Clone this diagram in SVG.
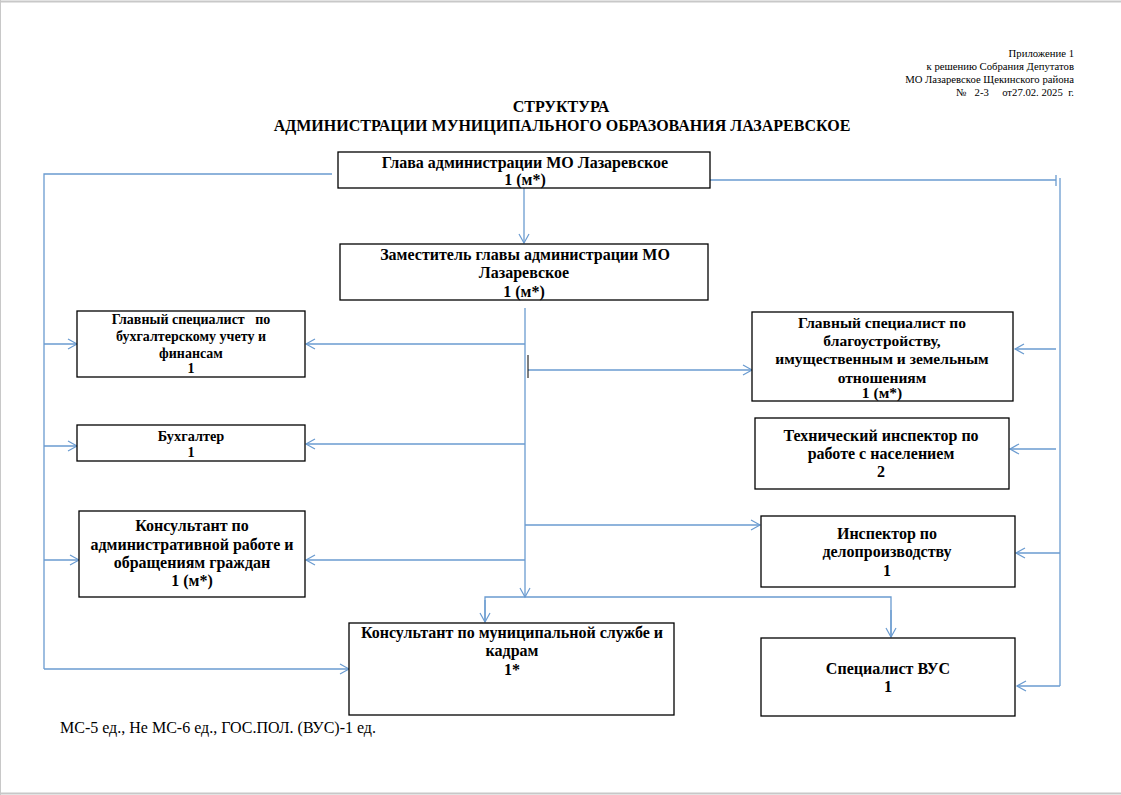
<svg xmlns="http://www.w3.org/2000/svg" width="1121" height="795" viewBox="0 0 1121 795">
<defs>
<marker id="arr" markerWidth="12" markerHeight="12" refX="10" refY="6" orient="auto" markerUnits="userSpaceOnUse">
<polyline points="1,1 10,6 1,11" fill="none" stroke="#6a9bd0" stroke-width="1.2"/>
</marker>
<style>
.box{fill:#fff;stroke:#000;stroke-width:1.3}
.t{font-family:"Liberation Serif","Times New Roman",serif;font-weight:bold;text-anchor:middle;fill:#000}
.c{fill:none;stroke:#6a9bd0;stroke-width:1.3}
.ca{fill:none;stroke:#6a9bd0;stroke-width:1.3;marker-end:url(#arr)}
.h{font-family:"Liberation Serif","Times New Roman",serif;font-size:10.7px;text-anchor:end;fill:#000}
</style>
</defs>
<rect x="0" y="0" width="1121" height="795" fill="#fff"/>
<line x1="0" y1="1.5" x2="1121" y2="1.5" stroke="#c8c8c8" stroke-width="2"/>
<line x1="0.5" y1="0" x2="0.5" y2="795" stroke="#c8c8c8" stroke-width="1"/>
<line x1="0" y1="793.5" x2="1121" y2="793.5" stroke="#c8c8c8" stroke-width="2"/>

<g id="header">
<text class="h" x="1074" y="57">Приложение 1</text>
<text class="h" x="1074" y="70">к решению Собрания Депутатов</text>
<text class="h" x="1074" y="83">МО Лазаревское Щекинского района</text>
<text class="h" x="1074" y="96" xml:space="preserve">№   2-3     от27.02. 2025  г.</text>
</g>
<g id="title">
<text class="t" x="561" y="112" font-size="16">СТРУКТУРА</text>
<text class="t" x="562" y="131" font-size="16">АДМИНИСТРАЦИИ МУНИЦИПАЛЬНОГО ОБРАЗОВАНИЯ ЛАЗАРЕВСКОЕ</text>
</g>

<g id="connectors">
<polyline class="c" points="332,174 44,174 44,669"/>
<line class="ca" x1="44" y1="344" x2="77" y2="344"/>
<line class="ca" x1="44" y1="446" x2="77" y2="446"/>
<line class="ca" x1="44" y1="560" x2="79" y2="560"/>
<line class="ca" x1="44" y1="669" x2="349" y2="669"/>
<line class="c" x1="710" y1="180" x2="1056" y2="180"/>
<line class="c" x1="1056" y1="175" x2="1056" y2="186"/>
<line class="c" x1="1060" y1="178" x2="1060" y2="686"/>
<line class="ca" x1="1056" y1="349" x2="1015" y2="349"/>
<line class="ca" x1="1056" y1="449" x2="1010" y2="449"/>
<line class="ca" x1="1060" y1="553" x2="1016" y2="553"/>
<line class="ca" x1="1060" y1="686" x2="1017" y2="686"/>
<line class="ca" x1="524" y1="188" x2="524" y2="243"/>
<line class="ca" x1="525" y1="308" x2="525" y2="597"/>
<line class="ca" x1="525" y1="344" x2="306" y2="344"/>
<line class="ca" x1="525" y1="444" x2="306" y2="444"/>
<line class="ca" x1="525" y1="560" x2="306" y2="560"/>
<line class="ca" x1="528" y1="370" x2="752" y2="370"/>
<line class="ca" x1="525" y1="525" x2="760" y2="525"/>
<polyline class="c" points="485,622 485,597 891,597 891,637"/>
<line class="ca" x1="485" y1="600" x2="485" y2="622"/>
<line class="ca" x1="891" y1="610" x2="891" y2="637"/>
<line x1="528" y1="355" x2="528" y2="378" stroke="#000" stroke-width="1"/>
</g>

<g id="n1">
<rect class="box" x="338" y="152" width="372" height="36"/>
<text class="t" x="525" y="168" font-size="16">Глава администрации МО Лазаревское</text>
<text class="t" x="525" y="185" font-size="16">1 (м*)</text>
</g>
<g id="n2">
<rect class="box" x="340" y="244" width="368" height="56"/>
<text class="t" x="525" y="260" font-size="16">Заместитель главы администрации МО</text>
<text class="t" x="524" y="278" font-size="16">Лазаревское</text>
<text class="t" x="524" y="297" font-size="16">1 (м*)</text>
</g>
<g id="n3">
<rect class="box" x="77" y="311" width="228" height="66"/>
<text class="t" x="191" y="324" font-size="14" xml:space="preserve">Главный специалист   по</text>
<text class="t" x="191" y="341" font-size="14">бухгалтерскому учету и</text>
<text class="t" x="191" y="358" font-size="14">финансам</text>
<text class="t" x="191" y="373" font-size="14">1</text>
</g>
<g id="n4">
<rect class="box" x="77" y="425" width="228" height="36"/>
<text class="t" x="191" y="441" font-size="14.3">Бухгалтер</text>
<text class="t" x="191" y="457" font-size="14.3">1</text>
</g>
<g id="n5">
<rect class="box" x="79" y="511" width="226" height="86"/>
<text class="t" x="192" y="531" font-size="16">Консультант по</text>
<text class="t" x="192" y="550" font-size="16">административной работе и</text>
<text class="t" x="192" y="568" font-size="16">обращениям граждан</text>
<text class="t" x="192" y="586" font-size="16">1 (м*)</text>
</g>
<g id="n6">
<rect class="box" x="349" y="623" width="325" height="92"/>
<text class="t" x="512" y="638" font-size="16">Консультант по муниципальной службе и</text>
<text class="t" x="512" y="656" font-size="16">кадрам</text>
<text class="t" x="512" y="675" font-size="16">1*</text>
</g>
<g id="n7">
<rect class="box" x="752" y="312" width="261" height="89"/>
<text class="t" x="882" y="328" font-size="15.5">Главный специалист по</text>
<text class="t" x="882" y="346" font-size="15.5">благоустройству,</text>
<text class="t" x="882" y="364" font-size="15.5">имущественным и земельным</text>
<text class="t" x="882" y="383" font-size="15.5">отношениям</text>
<text class="t" x="882" y="398" font-size="15.5">1 (м*)</text>
</g>
<g id="n8">
<rect class="box" x="755" y="418" width="254" height="71"/>
<text class="t" x="881" y="441" font-size="16">Технический инспектор по</text>
<text class="t" x="881" y="459" font-size="16">работе с населением</text>
<text class="t" x="881" y="477" font-size="16">2</text>
</g>
<g id="n9">
<rect class="box" x="761" y="516" width="254" height="71"/>
<text class="t" x="887" y="539" font-size="16">Инспектор по</text>
<text class="t" x="887" y="557" font-size="16">делопроизводству</text>
<text class="t" x="887" y="576" font-size="16">1</text>
</g>
<g id="n10">
<rect class="box" x="761" y="638" width="254" height="78"/>
<text class="t" x="888" y="674" font-size="16">Специалист ВУС</text>
<text class="t" x="888" y="692" font-size="16">1</text>
</g>
<g id="footer">
<text x="60" y="733" font-family="Liberation Serif, Times New Roman, serif" font-size="16">МС-5 ед., Не МС-6 ед., ГОС.ПОЛ. (ВУС)-1 ед.</text>
</g>
</svg>
